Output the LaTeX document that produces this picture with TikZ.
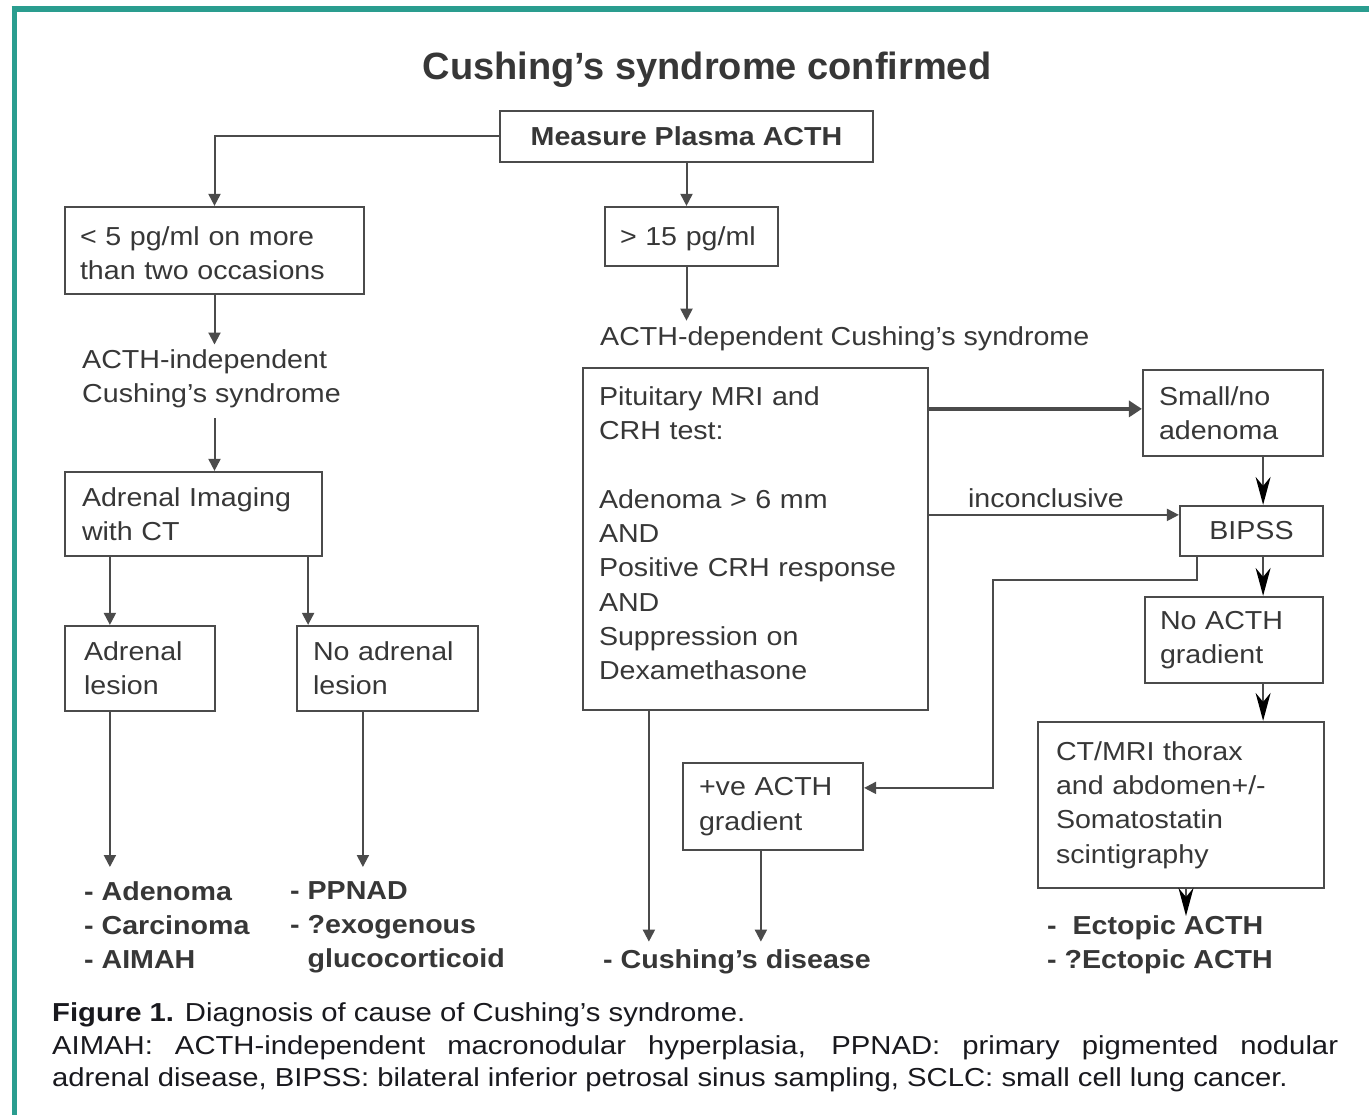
\documentclass[tikz,border=0pt]{standalone}
\usepackage{fontspec}
\setmainfont{Liberation Sans}[FakeStretch=1.1]
\newfontfamily\titlefam{Liberation Sans}
\newfontfamily\capfam{Liberation Sans}[FakeStretch=1.125]
\usetikzlibrary{arrows.meta,calc}
\definecolor{teal1}{RGB}{42,157,143}
\definecolor{ink}{RGB}{55,55,55}
\definecolor{ln}{RGB}{75,75,75}
\definecolor{capink}{RGB}{25,25,30}
\newcommand{\bodyfnt}{\fontsize{26}{34.3}\selectfont}
\newcommand{\boldfnt}{\fontsize{26}{34.3}\selectfont\bfseries}
\newcommand{\titlefnt}{\titlefam\fontsize{38}{44}\selectfont\bfseries}
\newcommand{\capfnt}{\capfam\fontsize{26}{33}\selectfont}
\begin{document}
\begin{tikzpicture}[x=1pt,y=-1pt,
  bx/.style={draw=ln, line width=2.2pt, inner ysep=0pt, text=ink, font=\bodyfnt},
  lt/.style={align=left},
  lbl/.style={inner sep=0pt, text=ink, font=\bodyfnt, align=left},
  outb/.style={inner sep=0pt, text=ink, font=\boldfnt, align=left},
  arr/.style={draw=ln, line width=2pt, -{Triangle[length=12pt,width=12pt]}},
  thk/.style={draw=ln, line width=4pt, -{Triangle[length=13pt,width=16pt]}},
  big/.style={draw=ln, line width=2pt, -{Stealth[length=28pt,width=15pt,inset=9pt,black]}},
  capt/.style={inner sep=0pt, text=capink, font=\capfnt, anchor=west}]
\fill[white] (0,0) rectangle (1369,1115);
\useasboundingbox (0,0) rectangle (1369,1115);
% teal frame
\draw[teal1, line width=6pt] (11.7,9) -- (1369,9);
\draw[teal1, line width=5.5pt] (14.5,6) -- (14.5,1115);

% title
\node[inner sep=0pt, text=ink, font=\titlefnt] (title) at (707,70) {Cushing’s syndrome confirmed};

% boxes
\node[bx, minimum width=373, minimum height=51, font=\boldfnt, align=center] (meas) at (686.5,136.5) {Measure Plasma ACTH};
\node[bx, lt, minimum width=299, minimum height=87, inner xsep=15, text width=269] (lt5) at (214.5,250.5) {\rule{0pt}{24pt}\textless{} 5 pg/ml on more\\than two occasions};
\node[bx, lt, minimum width=173, minimum height=59, inner xsep=15, text width=143] (gt15) at (691.5,236.5) {\rule{0pt}{24pt}\textgreater{} 15 pg/ml};
\node[bx, lt, minimum width=257, minimum height=84, inner xsep=17, text width=223] (adimg) at (193.5,514) {Adrenal Imaging\\with CT};
\node[bx, lt, minimum width=150, minimum height=85, inner xsep=19, text width=112] (adles) at (140,668.5) {Adrenal\\lesion};
\node[bx, lt, minimum width=181, minimum height=85, inner xsep=16, text width=149] (noad) at (387.5,668.5) {No adrenal\\lesion};
\node[bx, lt, minimum width=345, minimum height=342, inner xsep=16, text width=313] (pit) at (755.5,539) {Pituitary MRI and\\CRH test:\\[34.3pt]Adenoma \textgreater{} 6 mm\\AND\\Positive CRH response\\AND\\Suppression on\\Dexamethasone\rule[-12pt]{0pt}{12pt}};
\node[bx, lt, minimum width=180, minimum height=86, inner xsep=16, text width=148] (small) at (1233,413) {Small/no\\adenoma};
\node[bx, minimum width=143, minimum height=50, align=center] (bipss) at (1251.5,531) {BIPSS};
\node[bx, lt, minimum width=178, minimum height=86, inner xsep=15, text width=148] (noacth) at (1234,640) {No ACTH\\gradient};
\node[bx, lt, minimum width=286, minimum height=166, inner xsep=18, text width=250] (ctmri) at (1181,805) {CT/MRI thorax\\and abdomen+/-\\Somatostatin\\scintigraphy};
\node[bx, lt, minimum width=180, minimum height=87, inner xsep=16, text width=148] (pve) at (773,806.5) {+ve ACTH\\gradient};

% plain labels
\node[lbl, anchor=west] (acthdep) at (600,339) {ACTH-dependent Cushing’s syndrome};
\node[lbl, anchor=west] (acthind) at (82,379) {ACTH-independent\\Cushing’s syndrome};
\node[outb, anchor=north west] (out1) at (84,881) {- Adenoma\\- Carcinoma\\- AIMAH};
\node[outb, anchor=north west] (out2) at (290,881) {- PPNAD\\- ?exogenous\\\phantom{- }glucocorticoid};
\node[outb, anchor=west] (out3) at (603,962) {- Cushing’s disease};
\node[outb, anchor=north west] (out4) at (1047,915) {-\ \ Ectopic ACTH\\- ?Ectopic ACTH};

% connectors, left branch
\draw[arr] (meas.west) -| (lt5.north);
\draw[arr] (meas.south) -- (meas.south |- gt15.north);
\draw[arr] (gt15.south -| meas.south) -- ($(acthdep.north -| meas.south)+(0,-6)$);
\draw[arr] (lt5.south) -- ($(lt5.south |- acthind.north)+(0,-5)$);
\draw[arr] ($(acthind.south -| lt5.south)+(0,10)$) -- (adimg.north -| lt5.south);
\draw[arr] ($(adimg.south west)+(46,0)$) coordinate (a1) -- (a1 |- adles.north);
\draw[arr] ($(adimg.south east)+(-15,0)$) coordinate (a2) -- (a2 |- noad.north);
\draw[arr] ($(adles.south west)+(46,0)$) coordinate (a3) -- ($(a3 |- out1.north)+(0,-14)$);
\draw[arr] ($(noad.south west)+(67,0)$) coordinate (a4) -- ($(a4 |- out1.north)+(0,-14)$);

% right branch
\draw[thk] ($(pit.north east)+(0,42)$) coordinate (p1) -- (p1 -| small.west);
\draw[arr] ($(pit.north east)+(0,148)$) coordinate (p2) -- node[above=6pt, xshift=-8pt, inner sep=0pt, text=ink, font=\bodyfnt] (inc) {inconclusive} (p2 -| bipss.west);
\draw[big] ($(small.south east)+(-61,0)$) coordinate (s1) -- (s1 |- bipss.north);
\draw[big] ($(bipss.south east)+(-61,0)$) coordinate (s2) -- (s2 |- noacth.north);
\draw[big] ($(noacth.south east)+(-61,0)$) coordinate (s3) -- (s3 |- ctmri.north);
\coordinate (ectip) at (1186,916);
\draw[big] (ctmri.south -| ectip) -- (ectip);
\draw[arr] ($(bipss.south west)+(18,0)$) -- ++(0,23) -| ($(pve.north east)+(129,26)$) -- ($(pve.north east)+(0,26)$);
\draw[arr] ($(pit.south west)+(67,0)$) coordinate (q1) -- ($(q1 |- out3.north)+(0,-8)$);
\draw[arr] ($(pve.south west)+(79,0)$) coordinate (q2) -- ($(q2 |- out3.north)+(0,-8)$);

% caption
\node[capt] (cap1) at (52,1015) {\textbf{Figure 1.} Diagnosis of cause of Cushing’s syndrome.};
\node[capt] (cap2) at (52,1048) {\makebox[1286pt][s]{AIMAH: ACTH-independent macronodular hyperplasia, PPNAD: primary pigmented nodular}};
\node[capt] (cap3) at (52,1080) {adrenal disease, BIPSS: bilateral inferior petrosal sinus sampling, SCLC: small cell lung cancer.};
\end{tikzpicture}
\end{document}
